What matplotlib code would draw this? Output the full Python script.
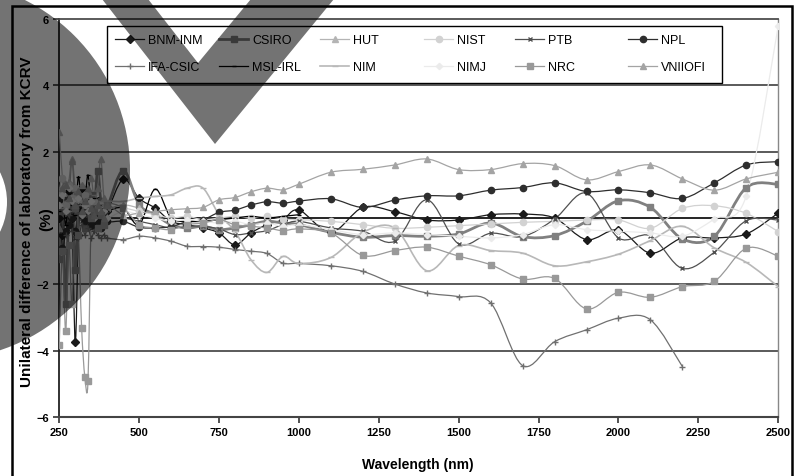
import numpy as np
import matplotlib
matplotlib.use('Agg')
import matplotlib.pyplot as plt
from matplotlib.path import Path
from matplotlib.patches import PathPatch, Polygon, Circle, Rectangle
from matplotlib.lines import Line2D
from matplotlib.transforms import Affine2D

plt.rcParams['font.family'] = ['Liberation Sans', 'DejaVu Sans']

nan = np.nan
wl = [250, 260, 270, 280, 290, 300, 310, 320, 330, 340, 350, 360, 370, 380, 390, 400,
      450, 500, 550, 600, 650, 700, 750, 800, 850, 900, 950, 1000,
      1100, 1200, 1300, 1400, 1500, 1600, 1700, 1800, 1900, 2000, 2100, 2200, 2300, 2400, 2500]

bnm_inm = [0.0, -0.5, 0.3, 0.8, 0.0, -3.75, -0.5, 0.9, 0.2, 0.6, 0.3, -0.2, 0.5, 0.1, 0.3, 0.2,
           1.17, 0.59, 0.3, -0.1, -0.2, -0.3, -0.45, -0.81, -0.45, -0.2, -0.05, 0.24,
           -0.43, 0.32, 0.19, -0.06, -0.06, 0.1, 0.12, 0.0, -0.65, -0.36, -1.06, -0.6, -0.6, -0.48, 0.15]
csiro = [-1.25, 0.2, -2.6, 0.4, 0.9, -1.57, 0.2, 0.6, -0.3, 0.1, 0.7, 0.3, 1.43, 0.5, 0.1, 0.3,
         1.43, 0.4, 0.1, -0.2, -0.3, -0.25, -0.35, -0.3, -0.2, -0.1, -0.15, -0.2,
         -0.43, -0.58, -0.53, -0.55, -0.48, -0.15, -0.56, -0.53, -0.1, 0.52, 0.32, -0.63, -0.55, 0.92, 1.02]
hut = [2.6, 1.2, 0.5, 1.1, 1.78, 0.9, 0.3, 1.0, 0.6, 0.8, 1.2, 0.5, 0.9, 1.78, 0.6, 0.3,
       0.4, 0.3] + [nan] * 25
nist = [0.8, 1.2, 0.4, 1.0, 0.6, 0.9, 0.5, 0.3, 0.7, 0.4, 0.2, 0.5, 0.3, 0.4, 0.2, 0.3,
        0.3, 0.2, 0.1, 0.0, 0.05, -0.05, 0.0, 0.05, 0.0, 0.05, -0.03, -0.05,
        -0.1, -0.2, -0.31, -0.28, -0.23, -0.18, -0.13, -0.1, -0.06, -0.06, -0.31, 0.29, 0.37, 0.14, -0.41]
ptb = [0.3, -0.4, 0.6, -0.2, 0.2, -0.6, 0.4, -0.1, 0.3, 0.0, -0.3, 0.2, -0.2, 0.1, -0.1, 0.0,
       0.0, -0.1, -0.2, -0.3, -0.25, -0.25, -0.33, -0.5, -0.45, -0.38, -0.2, -0.1,
       -0.3, -0.4, -0.7, 0.55, -0.78, -0.46, -0.56, -0.03, 0.75, -0.6, -0.54, -1.52, -1.03, -0.08, -0.06]
npl = [0.55, -0.9, -0.4, -0.2, 0.0, -0.4, 0.3, 0.1, -0.1, 0.2, -0.2, 0.0, -0.1, -0.3, 0.2, -0.1,
       -0.1, -0.28, -0.3, -0.26, -0.11, -0.05, 0.17, 0.24, 0.39, 0.49, 0.45, 0.51,
       0.58, 0.32, 0.54, 0.67, 0.67, 0.84, 0.92, 1.06, 0.8, 0.85, 0.76, 0.59, 1.06, 1.6, 1.7]
ifa_csic = [-0.3, 0.2, -0.5, 0.1, -0.4, 0.3, -0.6, -0.2, -0.5, -0.3, -0.6, -0.4, -0.5, -0.6, -0.5, -0.6,
            -0.65, -0.55, -0.6, -0.7, -0.85, -0.86, -0.88, -0.95, -1.0, -1.07, -1.36, -1.37,
            -1.44, -1.61, -1.99, -2.26, -2.37, -2.56, -4.45, -3.73, -3.37, -3.02, -3.07, -4.48, nan, nan, nan]
msl_irl = [0.2, 0.9, -0.2, 0.6, 0.4, 0.1, 1.25, 0.3, 0.5, 1.3, 0.2, 0.6, 0.0, 0.4, 0.1, 0.2,
           0.3, -0.2, 0.87, 0.0, -0.1, -0.1, -0.05, 0.0, 0.05, 0.0, 0.05, 0.1] + [nan] * 15
nim = [0.9, 0.3, 1.1, 0.5, 0.2, 0.8, 0.4, 1.0, 0.3, 0.6, 0.5, 0.7, 0.2, 0.5, 0.4, 0.5,
       0.5, 0.6, 0.65, 0.7, 0.9, 0.9, 0.1, -0.4, -1.26, -1.64, -1.16, -1.37,
       -1.19, -0.43, -0.3, -1.59, -0.83, -0.98, -1.06, -1.44, -1.32, -1.09, -0.68, -0.25, -0.9, -1.34, -2.07]
nimj = [0.4, 0.7, 0.2, 0.9, 0.5, 0.3, 0.6, 0.1, 0.4, 0.2, 0.5, 0.0, 0.3, 0.1, 0.2, 0.0,
        0.2, 0.1, 0.0, -0.1, -0.05, -0.1, -0.15, -0.1, -0.2, -0.15, -0.25, -0.2,
        -0.35, -0.5, -0.45, -0.5, -0.55, -0.6, -0.5, -0.2, -0.35, -0.4, -0.45, -0.55, -0.03, 0.67, 5.8]
nrc = [-3.83, -1.0, -3.42, -0.8, -2.6, 0.3, -0.5, -3.32, -4.78, -4.9, 0.0, 0.2, -0.3, 0.1, -0.2, 0.4,
       0.3, -0.2, -0.3, -0.35, -0.2, -0.15, -0.05, -0.2, -0.25, -0.3, -0.38, -0.33,
       -0.45, -1.13, -0.98, -0.88, -1.15, -1.41, -1.84, -1.82, -2.74, -2.24, -2.39, -2.07, -1.91, -0.91, -1.15]
vniiofi = [-0.3, 0.9, 1.0, 0.6, 1.73, 0.4, 0.8, 0.2, 0.5, 0.9, 0.3, 0.1, 0.4, 0.2, 0.0, 0.4,
           0.1, 0.15, 0.2, 0.25, 0.28, 0.32, 0.55, 0.62, 0.79, 0.9, 0.85, 1.02,
           1.38, 1.47, 1.6, 1.78, 1.46, 1.46, 1.64, 1.58, 1.15, 1.4, 1.6, 1.18, 0.84, 1.18, 1.38]

# name, values, colour, marker, marker size, line width
series = [
    ('BNM-INM', bnm_inm, '#1a1a1a', 'D', 3.6, 0.9),
    ('CSIRO', csiro, '#808080', 's', 4.2, 2.0),
    ('HUT', hut, '#b4b4b4', '^', 4.5, 0.9),
    ('NIST', nist, '#d2d2d2', 'o', 4.5, 0.9),
    ('PTB', ptb, '#505050', 'x', 3.5, 0.9),
    ('NPL', npl, '#2e2e2e', 'o', 4.5, 0.9),
    ('IFA-CSIC', ifa_csic, '#707070', '+', 4.5, 0.9),
    ('MSL-IRL', msl_irl, '#000000', '_', 3.5, 0.9),
    ('NIM', nim, '#b8b8b8', '_', 4.5, 1.2),
    ('NIMJ', nimj, '#ebebeb', 'D', 3.2, 0.9),
    ('NRC', nrc, '#999999', 's', 4.2, 0.9),
    ('VNIIOFI', vniiofi, '#a4a4a4', '^', 4.5, 0.9),
]


def smooth_path(x, y):
    # Excel style smoothed line: cubic Bezier through the points
    x = np.asarray(x, float)
    y = np.asarray(y, float)
    ok = ~np.isnan(y)
    verts, codes = [], []
    runs, cur = [], []
    for i in range(len(x)):
        if ok[i]:
            cur.append(i)
        elif cur:
            runs.append(cur)
            cur = []
    if cur:
        runs.append(cur)
    for r in runs:
        p = np.column_stack([x[r], y[r]])
        n = len(p)
        if n < 2:
            continue
        verts.append(p[0])
        codes.append(Path.MOVETO)
        for i in range(n - 1):
            p0 = p[max(i - 1, 0)]
            p1, p2 = p[i], p[i + 1]
            p3 = p[min(i + 2, n - 1)]
            verts += [p1 + (p2 - p0) / 6, p2 - (p3 - p1) / 6, p2]
            codes += [Path.CURVE4] * 3
    return Path(verts, codes)


fig = plt.figure(figsize=(8.03, 4.77), dpi=100)
ax = fig.add_axes([0.0738, 0.1237, 0.8954, 0.8343])

handles = []
for name, vals, col, mk, ms, lw in series:
    ax.add_patch(PathPatch(smooth_path(wl, vals), fill=False, edgecolor=col, lw=lw, zorder=3))
    ax.plot(wl, vals, ls='none', marker=mk, color=col, ms=ms, mew=1.0, zorder=4)
    handles.append(Line2D([], [], color=col, lw=lw, marker=mk, ms=ms, mew=1.0, label=name))

ax.set_xlim(250, 2500)
ax.set_ylim(-6, 6)
ax.set_xticks(np.arange(250, 2501, 250))
ax.set_yticks([-6, -4, -2, 2, 4, 6])
for gy in [-4, -2, 2, 4]:
    ax.axhline(gy, color='#4d4d4d', lw=1.3, zorder=1)
ax.axhline(0, color='black', lw=1.2, zorder=2)
ax.tick_params(axis='both', direction='out', length=4, width=1.2, colors='#333333',
               labelsize=8, labelcolor='black')
for lab in ax.get_xticklabels() + ax.get_yticklabels():
    lab.set_fontweight('bold')
ax.spines['left'].set_color('#222222')
ax.spines['left'].set_linewidth(1.3)
ax.spines['bottom'].set_color('#444444')
ax.spines['bottom'].set_linewidth(1.5)
ax.spines['top'].set_color('#4d4d4d')
ax.spines['top'].set_linewidth(1.3)
ax.spines['right'].set_color('#888888')
ax.spines['right'].set_linewidth(1.0)

fig.text(27 / 803, 1 - 222 / 477, 'Unilateral difference of laboratory from KCRV', rotation=90,
         ha='center', va='center', fontsize=11, fontweight='bold')
fig.text(46 / 803, 1 - 219 / 477, '(%)', rotation=90, ha='center', va='center',
         fontsize=11, fontweight='bold')
fig.text(418 / 803, 1 - 465 / 477, 'Wavelength (nm)', ha='center', va='center',
         fontsize=10, fontweight='bold')

# pixel coordinates helper (803 x 477 canvas, origin top-left)
px = Affine2D().scale(1 / 803, -1 / 477).translate(0, 1) + fig.transFigure

# legend: six equal columns of two rows inside one black frame
text_x = [148, 252, 353, 457, 548, 661]
rows = [(0, 6), (1, 7), (2, 8), (3, 9), (4, 10), (5, 11)]
for tx, (a, b) in zip(text_x, rows):
    lg = fig.legend([handles[a], handles[b]], [handles[a].get_label(), handles[b].get_label()],
                    loc='upper left', bbox_to_anchor=((tx - 32.5) / 803, 1 - 35 / 477),
                    frameon=False, fontsize=9, handlelength=2.3, handletextpad=0.3,
                    labelspacing=1.2, borderpad=0, borderaxespad=0)
    lg.set_zorder(6)
fig.add_artist(Rectangle((107, 27), 615, 57, transform=px, fill=False,
                         edgecolor='black', lw=1.0, zorder=6))

# outer frame
fig.add_artist(Rectangle((12 / 803, -0.1), 780 / 803, 1.1 - 7 / 477, transform=fig.transFigure,
                         fill=False, edgecolor='black', lw=1.8, zorder=7))

# dark overlay shapes
fig.add_artist(Circle((-60, 171), 190, transform=px, facecolor='black', alpha=0.55,
                      edgecolor='none', zorder=10))
fig.add_artist(Circle((-60, 203), 67, transform=px, facecolor='white',
                      edgecolor='none', zorder=11))
fig.add_artist(Polygon([(102, 0), (148, 0), (198, 64), (251, 0), (334, 0), (215, 145)],
                       closed=True, transform=px, facecolor='black', alpha=0.55,
                       edgecolor='none', zorder=10))

fig.savefig('out.png', dpi=100)
